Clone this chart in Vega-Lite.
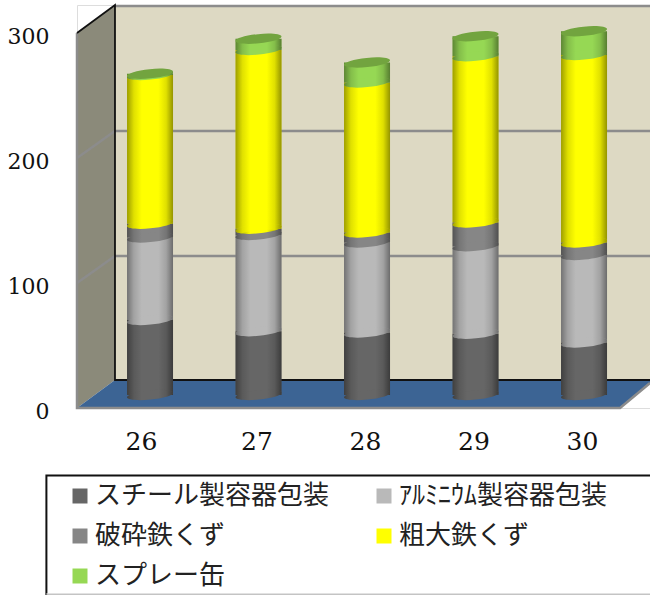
{
  "$schema": "https://vega.github.io/schema/vega-lite/v6.json",
  "width": 573,
  "height": 403,
  "autosize": "none",
  "padding": {"left": 77, "top": 5, "right": 0, "bottom": 187},
  "background": "white",
  "datasets": {
    "bars": [
      {"x": 26, "category": "スチール製容器包装", "order": 1, "value": 60},
      {"x": 26, "category": "ｱﾙﾐﾆｳﾑ製容器包装", "order": 2, "value": 66},
      {"x": 26, "category": "破砕鉄くず", "order": 3, "value": 11},
      {"x": 26, "category": "粗大鉄くず", "order": 4, "value": 119},
      {"x": 26, "category": "スプレー缶", "order": 5, "value": 1},
      {"x": 27, "category": "スチール製容器包装", "order": 1, "value": 51},
      {"x": 27, "category": "ｱﾙﾐﾆｳﾑ製容器包装", "order": 2, "value": 77},
      {"x": 27, "category": "破砕鉄くず", "order": 3, "value": 5},
      {"x": 27, "category": "粗大鉄くず", "order": 4, "value": 143},
      {"x": 27, "category": "スプレー缶", "order": 5, "value": 9},
      {"x": 28, "category": "スチール製容器包装", "order": 1, "value": 50},
      {"x": 28, "category": "ｱﾙﾐﾆｳﾑ製容器包装", "order": 2, "value": 72},
      {"x": 28, "category": "破砕鉄くず", "order": 3, "value": 8},
      {"x": 28, "category": "粗大鉄くず", "order": 4, "value": 120},
      {"x": 28, "category": "スプレー缶", "order": 5, "value": 16},
      {"x": 29, "category": "スチール製容器包装", "order": 1, "value": 49},
      {"x": 29, "category": "ｱﾙﾐﾆｳﾑ製容器包装", "order": 2, "value": 70},
      {"x": 29, "category": "破砕鉄くず", "order": 3, "value": 19},
      {"x": 29, "category": "粗大鉄くず", "order": 4, "value": 133},
      {"x": 29, "category": "スプレー缶", "order": 5, "value": 16},
      {"x": 30, "category": "スチール製容器包装", "order": 1, "value": 42},
      {"x": 30, "category": "ｱﾙﾐﾆｳﾑ製容器包装", "order": 2, "value": 70},
      {"x": 30, "category": "破砕鉄くず", "order": 3, "value": 10},
      {"x": 30, "category": "粗大鉄くず", "order": 4, "value": 150},
      {"x": 30, "category": "スプレー缶", "order": 5, "value": 19}
    ],
    "sideWall": [
      {"x": 25.327, "y": 300, "y2": 0},
      {"x": 25.677, "y": 322.4, "y2": 22.4}
    ],
    "backWall": [
      {"x": 25.677, "y": 322.4, "y2": 22.4},
      {"x": 30.608, "y": 322.4, "y2": 22.4}
    ],
    "floor": [
      {"x": 25.327, "y": 0, "y2": 0},
      {"x": 25.677, "y": 22.4, "y2": 0},
      {"x": 30.332, "y": 22.4, "y2": 0},
      {"x": 30.608, "y": 22.4, "y2": 20}
    ],
    "gridLines": [
      {"path": "100", "i": 0, "x": 25.327, "y": 100},
      {"path": "100", "i": 1, "x": 25.677, "y": 121.6},
      {"path": "100", "i": 2, "x": 30.608, "y": 121.6},
      {"path": "200", "i": 0, "x": 25.327, "y": 200},
      {"path": "200", "i": 1, "x": 25.677, "y": 221.6},
      {"path": "200", "i": 2, "x": 30.608, "y": 221.6},
      {"path": "300", "i": 0, "x": 25.677, "y": 321.6},
      {"path": "300", "i": 1, "x": 30.608, "y": 321.6},
      {"path": "front", "i": 0, "x": 25.327, "y": 300},
      {"path": "front", "i": 1, "x": 25.327, "y": 0},
      {"path": "front", "i": 2, "x": 30.332, "y": 0},
      {"path": "front", "i": 3, "x": 30.608, "y": 20}
    ],
    "darkEdges": [
      {"path": "corner", "i": 0, "x": 25.327, "y": 300},
      {"path": "corner", "i": 1, "x": 25.677, "y": 322.4},
      {"path": "corner", "i": 2, "x": 25.677, "y": 22.4},
      {"path": "corner", "i": 3, "x": 30.608, "y": 22.4}
    ],
    "legendFrame": [
      {"x": 25.045, "x2": 30.75, "y": -54, "y2": -150}
    ],
    "legendFoot": [
      {"path": "foot", "i": 0, "x": 25.045, "y": -148.8},
      {"path": "foot", "i": 1, "x": 30.608, "y": -148.8}
    ]
  },
  "encoding": {
    "x": {
      "field": "x",
      "type": "quantitative",
      "scale": {"domain": [25.327, 30.608], "nice": false, "zero": false, "padding": 0},
      "axis": {
        "values": [26, 27, 28, 29, 30],
        "format": "d",
        "title": null,
        "grid": false,
        "domain": false,
        "ticks": false,
        "labelFont": "DejaVu Serif",
        "labelFontSize": 25,
        "labelColor": "#111111",
        "labelPadding": 21,
        "labelOffset": {"condition": {"test": "datum.value === 26", "value": -9}, "value": -2},
        "labelFlush": false
      }
    },
    "y": {
      "field": "y",
      "type": "quantitative",
      "scale": {"domain": [0, 322.4], "nice": false, "zero": false},
      "axis": {
        "values": [0, 100, 200, 300],
        "title": null,
        "grid": false,
        "domain": false,
        "ticks": false,
        "labelFont": "DejaVu Serif",
        "labelFontSize": 22,
        "labelColor": "#111111",
        "labelPadding": 28,
        "labelOffset": 3,
        "labelFlush": false
      }
    }
  },
  "layer": [
    {
      "data": {"name": "backWall"},
      "mark": {"type": "area", "color": "#ddd9c3"},
      "encoding": {"y2": {"field": "y2"}}
    },
    {
      "data": {"name": "sideWall"},
      "mark": {"type": "area", "color": "#8b8a7a"},
      "encoding": {"y2": {"field": "y2"}}
    },
    {
      "data": {"name": "floor"},
      "mark": {"type": "area", "color": "#3c6494"},
      "encoding": {"y2": {"field": "y2"}}
    },
    {
      "data": {"name": "gridLines"},
      "mark": {"type": "line", "color": "#8c8c8c", "strokeWidth": 2.5},
      "encoding": {"detail": {"field": "path"}, "order": {"field": "i"}}
    },
    {
      "data": {"name": "darkEdges"},
      "mark": {"type": "line", "color": "#111111", "strokeWidth": 1.8},
      "encoding": {"detail": {"field": "path"}, "order": {"field": "i"}}
    },
    {
      "data": {"name": "legendFrame"},
      "mark": {"type": "rect", "fill": null, "stroke": "#111111", "strokeWidth": 2},
      "encoding": {"x2": {"field": "x2"}, "y2": {"field": "y2"}}
    },
    {
      "data": {"name": "legendFoot"},
      "mark": {"type": "line", "color": "#d9d9d9", "strokeWidth": 1.5},
      "encoding": {"detail": {"field": "path"}, "order": {"field": "i"}}
    },
    {
      "data": {"name": "bars"},
      "transform": [
        {
          "stack": "value",
          "groupby": ["x"],
          "sort": [{"field": "order", "order": "ascending"}],
          "as": ["y2", "y"]
        }
      ],
      "mark": {"type": "bar", "size": 46, "yOffset": -13, "y2Offset": -13},
      "encoding": {
        "y2": {"field": "y2"},
        "color": {
          "field": "category",
          "type": "nominal",
          "scale": {
            "domain": ["スチール製容器包装", "ｱﾙﾐﾆｳﾑ製容器包装", "破砕鉄くず", "粗大鉄くず", "スプレー缶"],
            "range": ["#666666", "#b9b9b9", "#868686", "#ffff00", "#96d854"]
          },
          "sort": null,
          "legend": {
            "title": null,
            "orient": "none",
            "legendX": -10,
            "legendY": 478,
            "columns": 2,
            "direction": "horizontal",
            "symbolType": "square",
            "symbolSize": 225,
            "symbolStrokeWidth": 0,
            "labelFont": "Noto Sans CJK JP",
            "labelFontSize": 26,
            "labelColor": "#222222",
            "labelLimit": 300,
            "labelOffset": 2,
            "rowPadding": 14,
            "columnPadding": 41,
            "padding": 0,
            "values": ["スチール製容器包装", "ｱﾙﾐﾆｳﾑ製容器包装", "破砕鉄くず", "粗大鉄くず", "スプレー缶"]
          }
        }
      }
    },
    {
      "data": {"name": "bars"},
      "transform": [
        {
          "stack": "value",
          "groupby": ["x"],
          "sort": [{"field": "order", "order": "ascending"}],
          "as": ["y2", "y"]
        }
      ],
      "mark": {
        "type": "bar",
        "size": 46,
        "yOffset": -13,
        "y2Offset": -13,
        "fill": {
          "x1": 0, "x2": 1, "y1": 0, "y2": 0, "gradient": "linear",
          "stops": [
            {"offset": 0, "color": "rgba(0,0,0,0.38)"},
            {"offset": 0.15, "color": "rgba(0,0,0,0.12)"},
            {"offset": 0.32, "color": "rgba(0,0,0,0)"},
            {"offset": 0.68, "color": "rgba(0,0,0,0)"},
            {"offset": 0.85, "color": "rgba(0,0,0,0.12)"},
            {"offset": 1, "color": "rgba(0,0,0,0.42)"}
          ]
        }
      },
      "encoding": {"y2": {"field": "y2"}}
    },
    {
      "data": {"name": "bars"},
      "transform": [
        {
          "stack": "value",
          "groupby": ["x"],
          "sort": [{"field": "order", "order": "ascending"}],
          "as": ["y", "top"]
        }
      ],
      "mark": {
        "type": "point",
        "shape": "M-1,0.1A1,0.2,-5.7,1,1,1,-0.1A1,0.2,-5.7,1,1,-1,0.1Z",
        "size": 2116,
        "filled": true,
        "opacity": 1,
        "strokeWidth": 0,
        "yOffset": -13
      },
      "encoding": {
        "color": {"field": "category", "type": "nominal", "sort": null}
      }
    },
    {
      "data": {"name": "bars"},
      "transform": [
        {
          "stack": "value",
          "groupby": ["x"],
          "sort": [{"field": "order", "order": "ascending"}],
          "as": ["y", "top"]
        }
      ],
      "mark": {
        "type": "point",
        "shape": "M-1,0.1A1,0.2,-5.7,1,1,1,-0.1A1,0.2,-5.7,1,1,-1,0.1Z",
        "size": 2116,
        "filled": true,
        "opacity": 1,
        "strokeWidth": 0,
        "yOffset": -13,
        "fill": {
          "x1": 0, "x2": 1, "y1": 0, "y2": 0, "gradient": "linear",
          "stops": [
            {"offset": 0, "color": "rgba(0,0,0,0.38)"},
            {"offset": 0.15, "color": "rgba(0,0,0,0.12)"},
            {"offset": 0.32, "color": "rgba(0,0,0,0)"},
            {"offset": 0.68, "color": "rgba(0,0,0,0)"},
            {"offset": 0.85, "color": "rgba(0,0,0,0.12)"},
            {"offset": 1, "color": "rgba(0,0,0,0.42)"}
          ]
        }
      }
    },
    {
      "data": {"name": "bars"},
      "transform": [
        {
          "stack": "value",
          "groupby": ["x"],
          "sort": [{"field": "order", "order": "ascending"}],
          "as": ["bottom", "y"]
        },
        {"filter": "datum.order === 5"}
      ],
      "mark": {
        "type": "point",
        "shape": "M-1,0.1A1,0.2,-5.7,1,1,1,-0.1A1,0.2,-5.7,1,1,-1,0.1Z",
        "size": 2116,
        "filled": true,
        "opacity": 1,
        "strokeWidth": 0,
        "yOffset": -13,
        "fill": "#72a43f"
      }
    }
  ]
}
